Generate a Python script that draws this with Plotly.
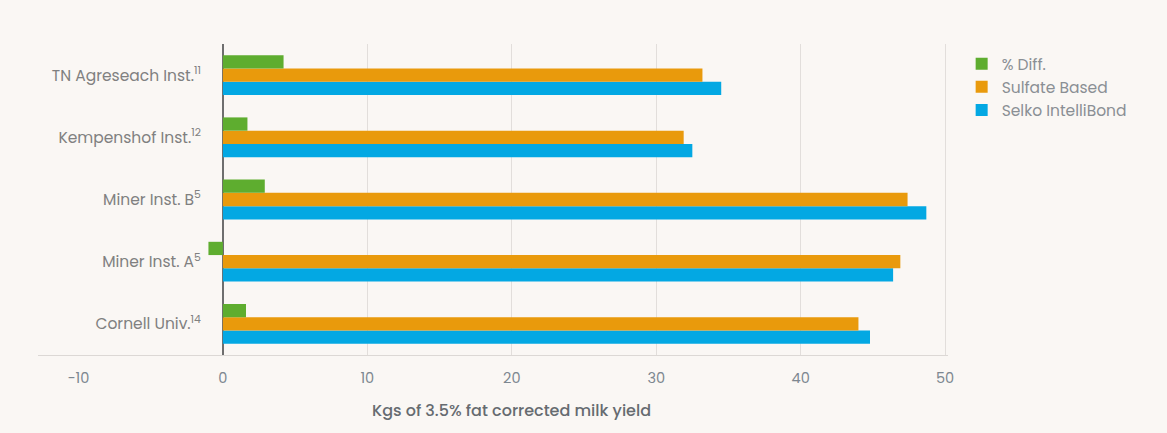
import plotly.graph_objects as go

categories = ["Cornell Univ.<sup>14</sup>", "Miner Inst. A<sup>5</sup>", "Miner Inst. B<sup>5</sup>",
              "Kempenshof Inst.<sup>12</sup>", "TN Agreseach Inst.<sup>11</sup>"]
selko = [44.8, 46.4, 48.7, 32.5, 34.5]
sulfate = [44.0, 46.9, 47.4, 31.9, 33.2]
pct_diff = [1.6, -1.0, 2.9, 1.7, 4.2]
tick_vals = [-10, 0, 10, 20, 30, 40, 50]
grid_vals = [10, 20, 30, 40, 50]
x_range = [-12.8, 50.2]

font = "Poppins, Lato, Noto Sans, sans-serif"

fig = go.Figure()
fig.add_trace(go.Bar(y=categories, x=selko, name="Selko IntelliBond", orientation="h",
                     marker=dict(color="#03a8e3", line=dict(width=0))))
fig.add_trace(go.Bar(y=categories, x=sulfate, name="Sulfate Based", orientation="h",
                     marker=dict(color="#e99a0c", line=dict(width=0))))
fig.add_trace(go.Bar(y=categories, x=pct_diff, name="% Diff.", orientation="h",
                     marker=dict(color="#5ead2f", line=dict(width=0))))

# position of the zero line within the x domain, so the category labels sit beside it
zero_pos = (0 - x_range[0]) / (x_range[1] - x_range[0])

fig.update_layout(
    width=1167, height=433,
    barmode="group", bargap=0.36, bargroupgap=0,
    paper_bgcolor="#faf7f4", plot_bgcolor="#faf7f4",
    margin=dict(l=38, r=219, t=44, b=78),
    font=dict(family=font, size=14, color="#808080"),
    legend=dict(traceorder="reversed", x=1.015, y=0.99, xanchor="left", yanchor="top",
                font=dict(size=15.5, color="#8a8f94"), itemwidth=30, tracegroupgap=0,
                bgcolor="rgba(0,0,0,0)"),
    xaxis=dict(range=x_range, tickvals=tick_vals, showgrid=False,
               minor=dict(tickvals=grid_vals, showgrid=True, gridcolor="#e2dedb", gridwidth=1, ticks=""),
               zeroline=True, zerolinecolor="#6e6e6e", zerolinewidth=1.5,
               showline=True, linecolor="#dcd8d5", linewidth=1,
               tickfont=dict(size=14.5, color="#7d8790"), ticks="", ticklabelstandoff=10),
    yaxis=dict(showgrid=False, tickfont=dict(size=15.5, color="#808080"), ticks="",
               anchor="free", position=zero_pos, showline=False,
               ticklabelstandoff=22, automargin=False),
    annotations=[dict(text="Kgs of 3.5% fat corrected milk yield", xref="paper", yref="paper",
                      x=0.52, y=-0.177, xanchor="center", yanchor="middle", showarrow=False,
                      font=dict(size=16, color="#666b70", weight=500))],
)

fig.write_html("out.html")
